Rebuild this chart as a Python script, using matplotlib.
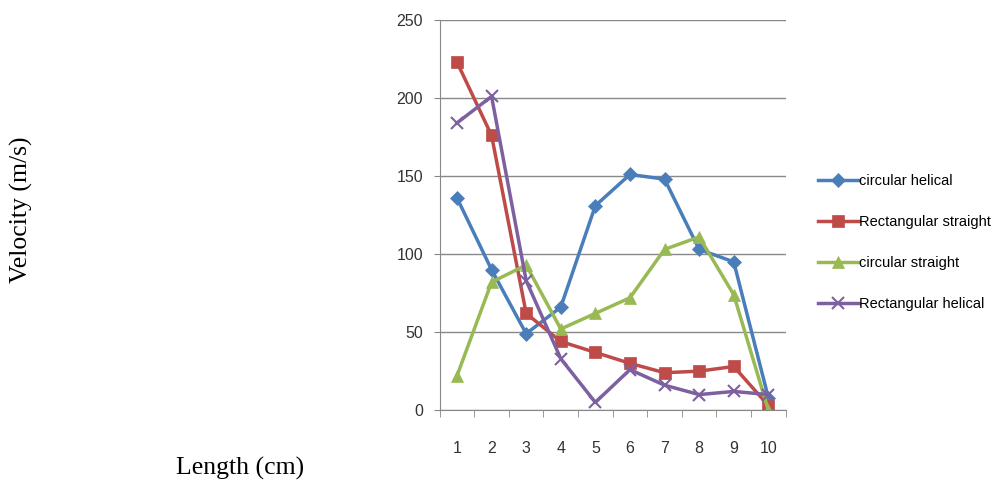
import matplotlib
matplotlib.use("Agg")
import matplotlib.pyplot as plt
from matplotlib.ticker import FixedLocator

lengths = [1, 2, 3, 4, 5, 6, 7, 8, 9, 10]
circular_helical = [136, 90, 49, 66, 131, 151, 148, 103, 95, 8]
rect_straight = [223, 176, 62, 44, 37, 30, 24, 25, 28, 3]
circular_straight = [22, 82, 93, 52, 62, 72, 103, 111, 74, 0]
rect_helical = [184, 201, 83, 33, 5, 26, 16, 10, 12, 10]

series = [
    ("circular helical", circular_helical, "#4A7EBB", "D", 7),
    ("Rectangular straight", rect_straight, "#BE4B48", "s", 9),
    ("circular straight", circular_straight, "#98B954", "^", 9),
    ("Rectangular helical", rect_helical, "#7D60A0", "x", 8),
]

tick_font = ["Liberation Sans", "DejaVu Sans"]

fig = plt.figure(figsize=(9.97, 4.86), dpi=100)
ax = fig.add_axes([0.441, 0.156, 0.347, 0.803])

for name, vals, color, marker, ms in series:
    ax.plot(lengths, vals, color=color, marker=marker, markersize=ms,
            linewidth=2.5, markeredgewidth=1.5 if marker == "x" else 0.5,
            markeredgecolor=color, label=name)

ax.set_xlim(0.5, 10.5)
ax.set_ylim(0, 250)
ax.set_yticks([0, 50, 100, 150, 200, 250])
ax.set_xticks(lengths)
ax.xaxis.set_minor_locator(FixedLocator([i + 0.5 for i in range(0, 11)]))
ax.tick_params(axis="x", which="major", length=0, pad=22)
ax.tick_params(axis="x", which="minor", length=5, direction="out", color="#888888")
ax.tick_params(axis="y", length=4, color="#888888", pad=8)
for lab in ax.get_xticklabels() + ax.get_yticklabels():
    lab.set_family(tick_font)
    lab.set_fontsize(11.5)
    lab.set_color("#333333")

ax.grid(axis="y", color="#888888", linewidth=1)
ax.set_axisbelow(True)
for side in ["top", "right"]:
    ax.spines[side].set_visible(False)
for side in ["left", "bottom"]:
    ax.spines[side].set_color("#888888")

fig.text(0.022, 0.568, "Velocity (m/s)", rotation=90, ha="center", va="center",
         family="Liberation Serif", fontsize=18.5)
fig.text(0.241, 0.037, "Length (cm)", ha="center", va="center",
         family="Liberation Serif", fontsize=18.5)

leg = fig.legend(loc="upper left", bbox_to_anchor=(0.807, 0.668), frameon=False,
                 prop={"family": tick_font, "size": 10.5}, labelspacing=1.85,
                 handlelength=2.8, handletextpad=0.05)

fig.savefig("out.png", dpi=100)
